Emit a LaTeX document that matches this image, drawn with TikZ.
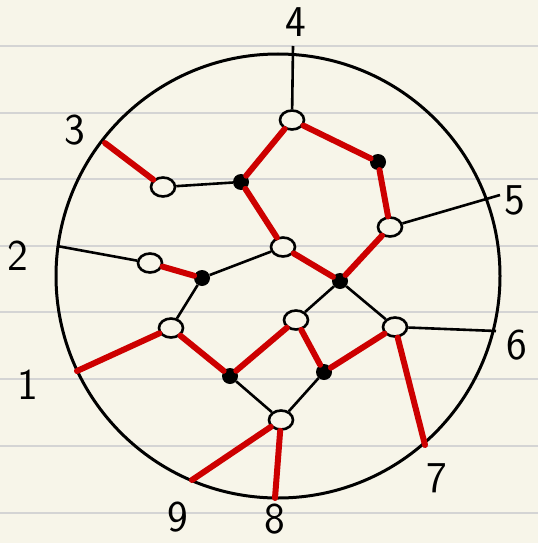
\documentclass[tikz,border=0pt]{standalone}
\usepackage{fontspec}
\usetikzlibrary{shapes.geometric}
\definecolor{paper}{RGB}{247,245,233}
\definecolor{rule}{RGB}{212,212,212}
\definecolor{pen}{RGB}{205,0,0}
\begin{document}
\begin{tikzpicture}[x=1pt,y=-1pt,
    wv/.style={ellipse,draw,line width=2.6pt,fill=paper,minimum width=24pt,minimum height=19pt,inner sep=0pt},
    bv/.style={circle,fill=black,minimum size=16pt,inner sep=0pt},
    edge/.style={line width=2.6pt},
    match/.style={pen,line width=6pt,line cap=round},
    lbl/.style={font=\sffamily\fontsize{44}{44}\selectfont,inner sep=0pt}]
  \useasboundingbox (0,0) rectangle (538,543);
  \fill[paper] (0,0) rectangle (538,543);
  \foreach \y in {46,113,179,246,312,379,446,513}
    \draw[rule,line width=2pt] (0,\y) -- (538,\y);
  \draw[line width=3pt] (278,276) circle (222pt);
  % vertices
  \node[wv] (w4) at (292,120) {};
  \node[bv] (btr) at (378,162) {};
  \node[wv] (w5) at (390,227) {};
  \node[bv] (bcr) at (340,281) {};
  \node[wv] (wc) at (283,247) {};
  \node[bv] (btl) at (241,182) {};
  \node[wv] (w3) at (163,187) {};
  \node[wv] (w2) at (150,263) {};
  \node[bv] (bl) at (202,278) {};
  \node[wv] (wl) at (171,328) {};
  \node[bv] (bbl) at (230,376) {};
  \node[wv] (wb) at (281,420) {};
  \node[wv] (wm) at (296,320) {};
  \node[bv] (bbr) at (324,372) {};
  \node[wv] (w6) at (395,327) {};
  % ends on the circle
  \coordinate (b1) at (77,371);
  \coordinate (b2) at (57,246);
  \coordinate (b3) at (105,143);
  \coordinate (b4) at (293,46);
  \coordinate (b5) at (500,195);
  \coordinate (b6) at (496,331);
  \coordinate (b7) at (425,445);
  \coordinate (b8) at (275,498);
  \coordinate (b9) at (192,480);
  % labels
  \node[lbl] (l1) at (28,385) {1};
  \node[lbl] (l2) at (18,256) {2};
  \node[lbl] (l3) at (75,130) {3};
  \node[lbl] (l4) at (296,22) {4};
  \node[lbl] (l5) at (515,200) {5};
  \node[lbl] (l6) at (517,345) {6};
  \node[lbl] (l7) at (437,478) {7};
  \node[lbl] (l8) at (275,519) {8};
  \node[lbl] (l9) at (178,517) {9};
  % edges
  \foreach \a/\b in {w4/b4,w4/btr,w4/btl,btr/w5,w5/b5,w5/bcr,bcr/wc,wc/btl,wc/bl,
      btl/w3,w3/b3,w2/b2,w2/bl,bl/wl,wl/b1,wl/bbl,bbl/wm,bbl/wb,wb/b9,wb/b8,
      wb/bbr,bbr/wm,wm/bcr,bcr/w6,bbr/w6,w6/b6,w6/b7}
    \draw[edge] (\a) -- (\b);
  % red matching
  \foreach \a/\b in {w4/btr,w4/btl,btr/w5,w5/bcr,bcr/wc,wc/btl,w3/b3,w2/bl,
      wl/b1,wl/bbl,bbl/wm,wb/b9,wb/b8,bbr/wm,bbr/w6,w6/b7}
    \draw[match] (\a) -- (\b);
\end{tikzpicture}
\end{document}
